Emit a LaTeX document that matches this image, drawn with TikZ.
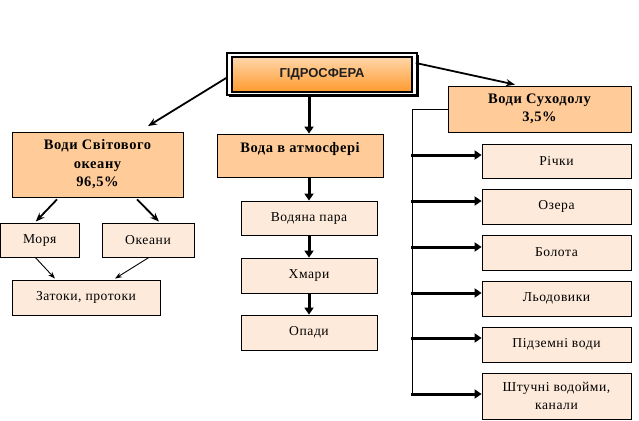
\documentclass[tikz,border=0pt]{standalone}
\usepackage{fontspec}
\setmainfont[LetterSpace=4]{Liberation Serif}
\newfontfamily\titlefont{Liberation Sans}
\usetikzlibrary{arrows.meta,shadows}
\definecolor{peach}{HTML}{FFCC99}
\definecolor{pale}{HTML}{FDEADA}
\definecolor{gtop}{HTML}{FFD6AA}
\definecolor{gbot}{HTML}{FF9A2E}
\begin{document}
\begin{tikzpicture}[x=1pt,y=-1pt,
  box/.style={draw=black, line width=0.8pt, fill=pale, align=center, inner sep=0pt,
    font=\fontsize{13.6}{17.5}\selectfont},
  mainbox/.style={box, fill=peach, font=\fontsize{14.5}{18.5}\selectfont\bfseries},
  arr/.style={-{Stealth[length=9pt,width=7pt]}, line width=1.8pt},
  thinarr/.style={-{Stealth[length=7pt,width=5pt]}, line width=0.9pt},
  heavyarr/.style={-{Triangle[length=7pt,width=9pt]}, line width=3pt},
  trunk/.style={line width=1pt}]
\useasboundingbox (0,0) rectangle (639,420);

% title
\node[draw=black, line width=1.6pt, fill=white, minimum width=190pt, minimum height=42pt,
  drop shadow={shadow xshift=1.6pt, shadow yshift=-1.8pt, fill=black, opacity=1}] (gf) at (322,74) {};
\node[draw=black, line width=1.4pt, top color=gtop, bottom color=gbot, minimum width=180pt,
  minimum height=35pt, inner sep=0pt, text=black!88, font=\titlefont\fontsize{13}{15}\selectfont\bfseries] (g) at (322,74.5) {ГІДРОСФЕРА};

% left branch
\node[mainbox, minimum width=171pt, minimum height=65pt] (ocean) at (97.5,164.5) {Води Світового\\океану\\96,5\%};
\node[box, minimum width=78.5pt, minimum height=34pt] (sea) at (39.75,240) {Моря};
\node[box, minimum width=92pt, minimum height=34pt] (oce) at (148,240) {Океани};
\node[box, minimum width=148pt, minimum height=35pt] (bay) at (86,297.5) {Затоки, протоки};

% middle branch
\node[mainbox, minimum width=166pt, minimum height=43pt, text height=9pt, text depth=16pt] (atm) at (300,155.5) {Вода в атмосфері};
\node[box, minimum width=136pt, minimum height=34pt] (vap) at (309,218) {Водяна пара};
\node[box, minimum width=136pt, minimum height=35pt] (cld) at (309,275.5) {Хмари};
\node[box, minimum width=136pt, minimum height=35pt] (prc) at (309,332.5) {Опади};

% right branch
\node[mainbox, minimum width=183pt, minimum height=46pt] (land) at (539.5,109) {Води Суходолу\\3,5\%};
\node[box, minimum width=149pt, minimum height=34pt] (r1) at (556.5,161) {Річки};
\node[box, minimum width=149pt, minimum height=35pt] (r2) at (556.5,206.5) {Озера};
\node[box, minimum width=149pt, minimum height=35pt] (r3) at (556.5,252.5) {Болота};
\node[box, minimum width=149pt, minimum height=35pt] (r4) at (556.5,298.5) {Льодовики};
\node[box, minimum width=149pt, minimum height=35pt] (r5) at (556.5,344.5) {Підземні води};
\node[box, minimum width=149pt, minimum height=46pt] (r6) at (556.5,396) {Штучні водойми,\\канали};

% connectors from title
\draw[arr] ([yshift=-4]gf.west) -- ([shift={(50.5,-5.5)}]ocean.north);
\draw[heavyarr] ([xshift=-13]gf.south) -- ([xshift=9]atm.north);
\draw[arr] ([shift={(-2,-11)}]gf.east) -- ([shift={(-24.5,-1)}]land.north);

% ocean
\draw[arr] ([shift={(-40.5,2)}]ocean.south) -- ([shift={(-4,-1)}]sea.north);
\draw[arr] ([shift={(39.5,2)}]ocean.south) -- ([shift={(11,-1)}]oce.north);
\draw[thinarr] ([xshift=-4.5]sea.south) -- ([shift={(-31,-1)}]bay.north);
\draw[thinarr] ([xshift=1]oce.south) -- ([shift={(29,-1)}]bay.north);

% atmosphere
\draw[heavyarr] ([xshift=9]atm.south) -- (vap.north);
\draw[heavyarr] (vap.south) -- (cld.north);
\draw[heavyarr] (cld.south) -- (prc.north);

% land trunk
\coordinate (tb) at (412,395);
\draw[trunk] (land.west) -| (tb);
\coordinate (t1) at (411,155);
\coordinate (t2) at (411,201);
\coordinate (t3) at (411,247);
\coordinate (t4) at (411,293);
\coordinate (t5) at (411,338);
\coordinate (t6) at (411,394);
\draw[heavyarr] (t1) -- (t1 -| r1.west);
\draw[heavyarr] (t2) -- (t2 -| r2.west);
\draw[heavyarr] (t3) -- (t3 -| r3.west);
\draw[heavyarr] (t4) -- (t4 -| r4.west);
\draw[heavyarr] (t5) -- (t5 -| r5.west);
\draw[heavyarr] (t6) -- (t6 -| r6.west);
\end{tikzpicture}
\end{document}
